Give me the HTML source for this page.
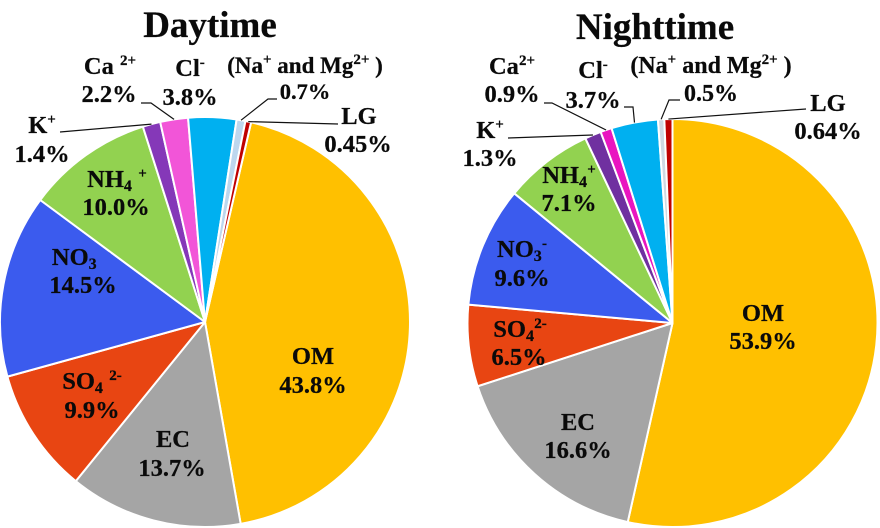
<!DOCTYPE html>
<html lang="en">
<head>
<meta charset="utf-8">
<title>Daytime and Nighttime Composition Pies</title>
<style>
  html, body { margin: 0; padding: 0; background: #fff; }
  #figure { display: block; width: 880px; height: 528px; }
  text { font-family: "Liberation Serif", serif; font-weight: bold; fill: #0a0a0a; stroke: #0a0a0a; stroke-width: 0.25; text-anchor: middle; }
  .slice { stroke: #fff; stroke-width: 2; stroke-linejoin: round; }
  .leader { fill: none; stroke: #111; stroke-width: 1.2; }
</style>
</head>
<body>
<svg id="figure" xmlns="http://www.w3.org/2000/svg" width="880" height="528" viewBox="0 0 880 528">
  <text x="210" y="37" font-size="37">Daytime</text>
  <text x="655" y="39" font-size="37">Nighttime</text>
  <g id="day-pie"></g>
  <g id="night-pie"></g>
</svg>
<script>
const categories = ['OM', 'EC', 'SO4', 'NO3', 'NH4', 'K', 'Ca', 'Cl', 'Na-Mg', 'LG'];
const dayValues = [43.8, 13.7, 9.9, 14.5, 10.0, 1.4, 2.2, 3.8, 0.7, 0.45];
const nightValues = [53.9, 16.6, 6.5, 9.6, 7.1, 1.3, 0.9, 3.7, 0.5, 0.64];
const dayPrinted = ['43.8%', '13.7%', '9.9%', '14.5%', '10.0%', '1.4%', '2.2%', '3.8%', '0.7%', '0.45%'];
const nightPrinted = ['53.9%', '16.6%', '6.5%', '9.6%', '7.1%', '1.3%', '0.9%', '3.7%', '0.5%', '0.64%'];

const SUP = (s) => `<tspan dy="-9" font-size="15">${s}</tspan><tspan dy="9"> </tspan>`;
const SUB = (s) => `<tspan dy="4" font-size="16">${s}</tspan><tspan dy="-4" font-size="1"> </tspan>`;
const dayNames = ['OM', 'EC', 'SO' + SUB('4') + '\u00A0' + SUP('2-'), 'NO' + SUB('3') + '\u00A0\u00A0' + SUP('-'),
  'NH' + SUB('4') + '\u00A0' + SUP('+'), 'K' + SUP('+'), 'Ca ' + SUP('2+'), 'Cl' + SUP('-'),
  '(Na' + SUP('+') + 'and Mg' + SUP('2+') + ')', 'LG'];
const nightNames = ['OM', 'EC', 'SO' + SUB('4') + SUP('2-'), 'NO' + SUB('3') + SUP('-'),
  'NH' + SUB('4') + SUP('+'), 'K' + SUP('+'), 'Ca' + SUP('2+'), 'Cl' + SUP('-'),
  '(Na' + SUP('+') + 'and Mg' + SUP('2+') + ')', 'LG'];

const dayColors = ['#FFC000', '#A5A5A5', '#E84512', '#3B5BEE', '#92D250', '#8538B8', '#F255D8', '#00B0F0', '#BDD7EE', '#C00000'];
const nightColors = ['#FFC000', '#A5A5A5', '#E84512', '#3B5BEE', '#92D250', '#7030A0', '#E915C0', '#00B0F0', '#CFD8E2', '#C00000'];

// Layout (not data): label anchors [nameX, nameY, valueX, valueY, nameSize, valueSize] and leader elbows
const dayLabelPos = [[313,364,313,393],[173,447,172,476],[92,389,92,418],[83,265,83,293],[117,187,116,215],
  [42,133,42,162],[110,74,109,102],[190,76,190,105],[305,73,305,99,23,22.5],[359,124,358,152]];
const nightLabelPos = [[763,321,763,349],[578,430,578,458],[520,337,519,365],[522,257,522,286],[569,183,569,211],
  [490,138,490,166],[512,74,512,102],[593,78,593,108],[711,73,711,101,24,24],[828,111,828,139]];
const dayLeaders = { 5: [[60,132]], 6: [[141,103],[151,103]], 8: [[277,99],[268,99]], 9: [[338,124]] };
const nightLeaders = { 5: [[508,138]], 6: [[544,103],[552,103]], 7: [[624,107],[633,107]], 8: [[680,100],[669,100]], 9: [[806,109]] };

const NS = 'http://www.w3.org/2000/svg';

function drawPie(root, cfg) {
  const total = cfg.values.reduce((a, b) => a + b, 0);
  const angleOf = (v) => v / total * 360;
  const point = (deg) => {
    const a = deg * Math.PI / 180;
    return [cfg.cx + cfg.rx * Math.sin(a), cfg.cy - cfg.ry * Math.cos(a)];
  };
  let cum = cfg.start;
  cfg.values.forEach((v, i) => {
    const a0 = cum;
    const a1 = cum + angleOf(v);
    cum = a1;
    const p0 = point(a0);
    const p1 = point(a1);
    const path = document.createElementNS(NS, 'path');
    path.setAttribute('d', `M${cfg.cx} ${cfg.cy}L${p0[0]} ${p0[1]}A${cfg.rx} ${cfg.ry} 0 ${a1 - a0 > 180 ? 1 : 0} 1 ${p1[0]} ${p1[1]}Z`);
    path.setAttribute('fill', cfg.colors[i]);
    path.setAttribute('class', 'slice');
    
    
    root.appendChild(path);

    if (cfg.leaders[i]) {
      const end = point((a0 + a1) / 2);
      const pts = cfg.leaders[i].concat([end]).map((p) => p.join(',')).join(' ');
      const line = document.createElementNS(NS, 'polyline');
      line.setAttribute('points', pts);
      line.setAttribute('class', 'leader');
      
      
      root.appendChild(line);
    }

    const pos = cfg.labelPos[i];
    const name = document.createElementNS(NS, 'text');
    name.setAttribute('x', pos[0]);
    name.setAttribute('y', pos[1]);
    name.setAttribute('font-size', pos[4] || 24.5);
    name.innerHTML = cfg.names[i];
    
    
    root.appendChild(name);

    const val = document.createElementNS(NS, 'text');
    val.setAttribute('x', pos[2]);
    val.setAttribute('y', pos[3]);
    val.setAttribute('font-size', pos[5] || 24.5);
    val.textContent = cfg.printed[i];
    
    
    root.appendChild(val);
  });
}

drawPie(document.getElementById('day-pie'), {
  prefix: 'day', cx: 205, cy: 322, rx: 205, ry: 205, start: 13,
  values: dayValues, printed: dayPrinted, names: dayNames, colors: dayColors,
  labelPos: dayLabelPos, leaders: dayLeaders
});
drawPie(document.getElementById('night-pie'), {
  prefix: 'night', cx: 672.5, cy: 323, rx: 205, ry: 204, start: 0,
  values: nightValues, printed: nightPrinted, names: nightNames, colors: nightColors,
  labelPos: nightLabelPos, leaders: nightLeaders
});
</script>
</body>
</html>
